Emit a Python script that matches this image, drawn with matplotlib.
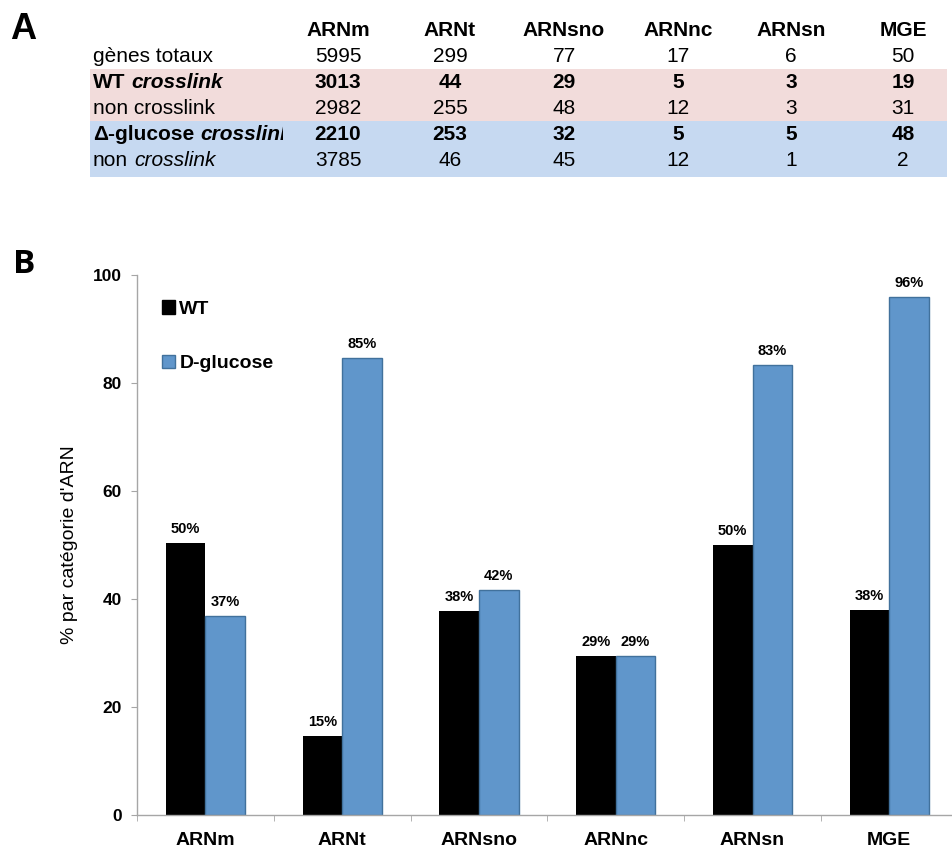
import matplotlib.pyplot as plt
from matplotlib.patches import Rectangle, Patch
from matplotlib.transforms import Bbox, TransformedBbox
import numpy as np

plt.rcParams['font.family'] = ['Liberation Sans', 'DejaVu Sans']

# Table A data
categories = ['ARNm', 'ARNt', 'ARNsno', 'ARNnc', 'ARNsn', 'MGE']
genes_totaux = [5995, 299, 77, 17, 6, 50]
wt_crosslink = [3013, 44, 29, 5, 3, 19]
wt_non_crosslink = [2982, 255, 48, 12, 3, 31]
glc_crosslink = [2210, 253, 32, 5, 5, 48]
glc_non_crosslink = [3785, 46, 45, 12, 1, 2]

# row labels, split in (text, weight, style) pieces
row_labels = [
    [('gènes totaux', 'normal', 'normal')],
    [('WT', 'bold', 'normal'), ('crosslink', 'bold', 'italic')],
    [('non crosslink', 'normal', 'normal')],
    [('Δ-glucose', 'bold', 'normal'), ('crosslink', 'bold', 'italic')],
    [('non', 'normal', 'normal'), ('crosslink', 'normal', 'italic')],
]
row_values = [genes_totaux, wt_crosslink, wt_non_crosslink, glc_crosslink, glc_non_crosslink]
row_bold = [False, True, False, True, False]

# Chart B data (% per RNA category)
wt_pct = [50.3, 14.7, 37.7, 29.4, 50.0, 38.0]
glc_pct = [36.9, 84.6, 41.6, 29.4, 83.3, 96.0]

W, H = 952, 849
fig = plt.figure(figsize=(W / 100, H / 100), dpi=100)

# ---- panel A : table drawn in pixel coordinates ----
tab = fig.add_axes([0, 1 - 190 / H, 1, 190 / H])
tab.set_xlim(0, W)
tab.set_ylim(190, 0)
tab.set_axis_off()

tab.add_patch(Rectangle((90, 69), 857, 52, facecolor='#F2DCDB', edgecolor='none'))
tab.add_patch(Rectangle((90, 121), 857, 56, facecolor='#C6D9F1', edgecolor='none'))

col_x = [338, 450, 564, 678, 791, 903]
row_y = [57, 82, 108, 134, 161]
fs = 15

# label column is cut at x=283 px in the original
label_clip = TransformedBbox(Bbox.from_extents(88 / W, 1 - 190 / H, 283 / W, 1 - 42 / H),
                             fig.transFigure)

for cx, name in zip(col_x, categories):
    tab.text(cx, 31, name, ha='center', va='center', fontsize=fs, fontweight='bold')

for i, (parts, vals, bold) in enumerate(zip(row_labels, row_values, row_bold)):
    y = row_y[i]
    prev = None
    for text, weight, style in parts:
        if prev is None:
            t = tab.text(93, y, text, ha='left', va='center', fontsize=fs,
                         fontweight=weight, fontstyle=style)
        else:
            t = tab.annotate(text, xy=(1, 0.5), xycoords=prev, xytext=(4.2, 0),
                             textcoords='offset points', ha='left', va='center',
                             fontsize=fs, fontweight=weight, fontstyle=style)
        t.set_clip_on(True)
        t.set_clip_path(None)
        t.set_clip_box(label_clip)
        prev = t
    for cx, v in zip(col_x, vals):
        tab.text(cx, y, str(v), ha='center', va='center', fontsize=fs,
                 fontweight='bold' if bold else 'normal')

fig.text(10 / W, 1 - 39 / H, 'A', fontsize=26, fontweight='bold', va='baseline')
fig.text(13 / W, 1 - 273 / H, 'B', fontsize=24, fontweight='bold', va='baseline',
         family=['Open Sans', 'DejaVu Sans'])

# ---- panel B : grouped bars ----
ax = fig.add_axes([137 / W, (H - 815) / H, (W - 137) / W, 540 / H])
x = np.arange(len(categories))
bw = 0.29
b1 = ax.bar(x - 0.145, wt_pct, bw, color='black', label='WT')
b2 = ax.bar(x + 0.145, glc_pct, bw, color='#6096CB', edgecolor='#41719C',
            linewidth=1, label='D-glucose')

for bars in (b1, b2):
    ax.bar_label(bars, fmt='{:.0f}%', padding=5, fontsize=10.5, fontweight='bold')

ax.set_xlim(-0.5, 5.458)
ax.set_ylim(0, 100)
ax.set_yticks(range(0, 101, 20))
ax.set_yticklabels([str(v) for v in range(0, 101, 20)], fontweight='bold', fontsize=12.5)
ax.tick_params(axis='y', direction='out', length=4, color='#A6A6A6', pad=7)

ax.set_xticks(x)
ax.set_xticklabels(categories, fontweight='bold', fontsize=14)
ax.set_xticks(np.arange(-0.5, 5.5, 1), minor=True)
ax.tick_params(axis='x', which='major', length=0, pad=12)
ax.tick_params(axis='x', which='minor', direction='out', length=4, color='#A6A6A6')

for s in ('top', 'right'):
    ax.spines[s].set_visible(False)
for s in ('left', 'bottom'):
    ax.spines[s].set_color('#A6A6A6')
    ax.spines[s].set_linewidth(1)

ax.set_ylabel("% par catégorie d'ARN", fontsize=14)
ax.yaxis.set_label_coords(-0.072, 0.5)

handles = [Patch(facecolor='black', edgecolor='black', label='WT'),
           Patch(facecolor='#6096CB', edgecolor='#41719C', label='D-glucose')]
ax.legend(handles=handles, loc='upper left', bbox_to_anchor=(0.031, 0.953),
          frameon=False, prop={'weight': 'bold', 'size': 14},
          handlelength=0.68, handleheight=0.68, handletextpad=0.2,
          labelspacing=1.9, borderpad=0, borderaxespad=0)

plt.savefig('out.png', dpi=100)
